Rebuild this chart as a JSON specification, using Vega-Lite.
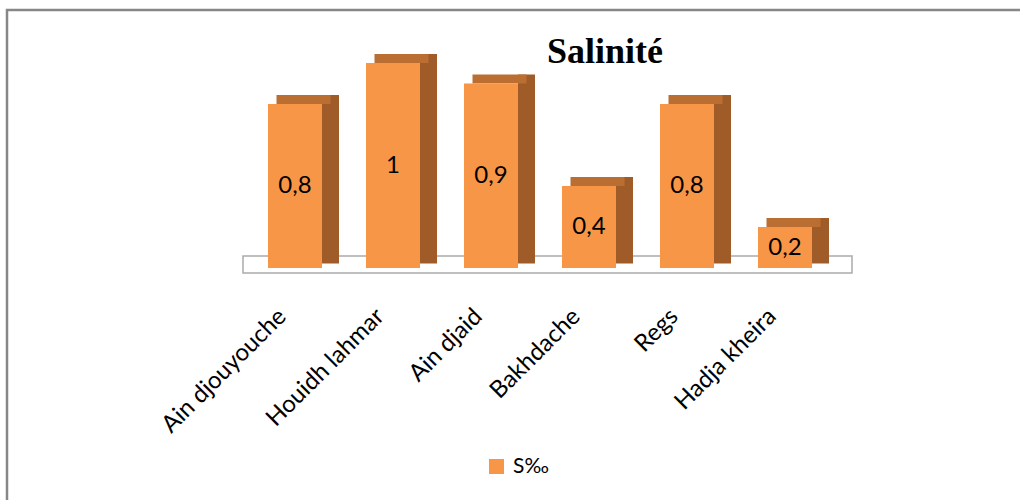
{
  "$schema": "https://vega.github.io/schema/vega-lite/v6.json",
  "autosize": {"type": "none"},
  "width": 1100,
  "height": 600,
  "padding": {"left": 7, "top": 10, "right": -87, "bottom": -110},
  "background": "white",
  "title": {
    "text": "Salinité",
    "font": "Liberation Serif",
    "fontSize": 36,
    "fontWeight": "bold",
    "color": "black",
    "anchor": "start",
    "frame": "group",
    "dx": 540,
    "dy": 36,
    "offset": -53,
    "baseline": "alphabetic"
  },
  "data": {
    "values": [
      {"Station": "Ain djouyouche", "S": 0.8},
      {"Station": "Houidh lahmar", "S": 1.0},
      {"Station": "Ain djaid", "S": 0.9},
      {"Station": "Bakhdache", "S": 0.4},
      {"Station": "Regs", "S": 0.8},
      {"Station": "Hadja kheira", "S": 0.2}
    ]
  },
  "config": {
    "view": {"stroke": "#878787", "strokeWidth": 2.5},
    "locale": {
      "number": {"decimal": ",", "thousands": " ", "grouping": [3], "currency": ["", " €"]}
    }
  },
  "layer": [
    {
      "data": {"values": [{}]},
      "mark": {"type": "rect", "fill": "white", "stroke": "#aaaaaa", "strokeWidth": 1.5, "xOffset": -52, "x2Offset": 67},
      "encoding": {
        "x": {"datum": "Ain djouyouche", "type": "nominal",
          "scale": {"domain": ["Ain djouyouche", "Houidh lahmar", "Ain djaid", "Bakhdache", "Regs", "Hadja kheira"], "range": [261, 805], "paddingInner": 0.449, "paddingOuter": 0},
          "axis": {"orient": "bottom", "offset": -342, "labelAngle": -45, "labelFontSize": 24, "labelFont": "Lato", "labelColor": "black", "ticks": false, "domain": false, "title": null, "labelPadding": 36, "labelOffset": -21, "grid": false, "labelOverlap": false, "labelLimit": 400}},
        "x2": {"datum": "Hadja kheira"},
        "y": {"datum": 0.0585, "type": "quantitative", "scale": {"domain": [-1.6683, 1.2585], "zero": false, "nice": false}, "axis": null},
        "y2": {"datum": -0.0244}
      }
    },
    {
      "mark": {"type": "bar", "fill": "#A05C28", "width": 17, "xOffset": 35.5, "yOffset": -9, "y2Offset": -4.5},
      "encoding": {
        "x": {"field": "Station", "type": "nominal", "sort": null},
        "y": {"field": "S", "type": "quantitative", "scale": {"domain": [-1.6683, 1.2585], "zero": false, "nice": false}, "axis": null},
        "y2": {"datum": 0}
      }
    },
    {
      "mark": {"type": "bar", "fill": "#BA6E32", "xOffset": 8.5, "yOffset": -9, "y2Offset": 0},
      "encoding": {
        "x": {"field": "Station", "type": "nominal", "sort": null},
        "y": {"field": "S", "type": "quantitative", "scale": {"domain": [-1.6683, 1.2585], "zero": false, "nice": false}, "axis": null},
        "y2": {"field": "S"}
      }
    },
    {
      "mark": {"type": "bar"},
      "encoding": {
        "x": {"field": "Station", "type": "nominal", "sort": null},
        "y": {"field": "S", "type": "quantitative", "scale": {"domain": [-1.6683, 1.2585], "zero": false, "nice": false}, "axis": null},
        "y2": {"datum": 0},
        "color": {"datum": "S‰", "type": "nominal", "scale": {"range": ["#F79646"]},
          "legend": {"orient": "none", "legendX": 479, "legendY": 446, "title": null, "labelFont": "Lato", "labelFontSize": 21, "labelColor": "black", "symbolType": "square", "symbolSize": 225, "symbolStrokeWidth": 0, "labelOffset": 6}}
      }
    },
    {
      "mark": {"type": "text", "font": "Lato", "fontSize": 24, "color": "black", "baseline": "middle", "align": "center"},
      "encoding": {
        "x": {"field": "Station", "type": "nominal", "sort": null},
        "y": {"field": "S", "type": "quantitative", "scale": {"domain": [-3.3366, 2.5171], "zero": false, "nice": false}, "axis": null},
        "text": {"field": "S", "type": "quantitative", "format": ".1~f"}
      }
    }
  ],
  "resolve": {"scale": {"y": "independent"}}
}
